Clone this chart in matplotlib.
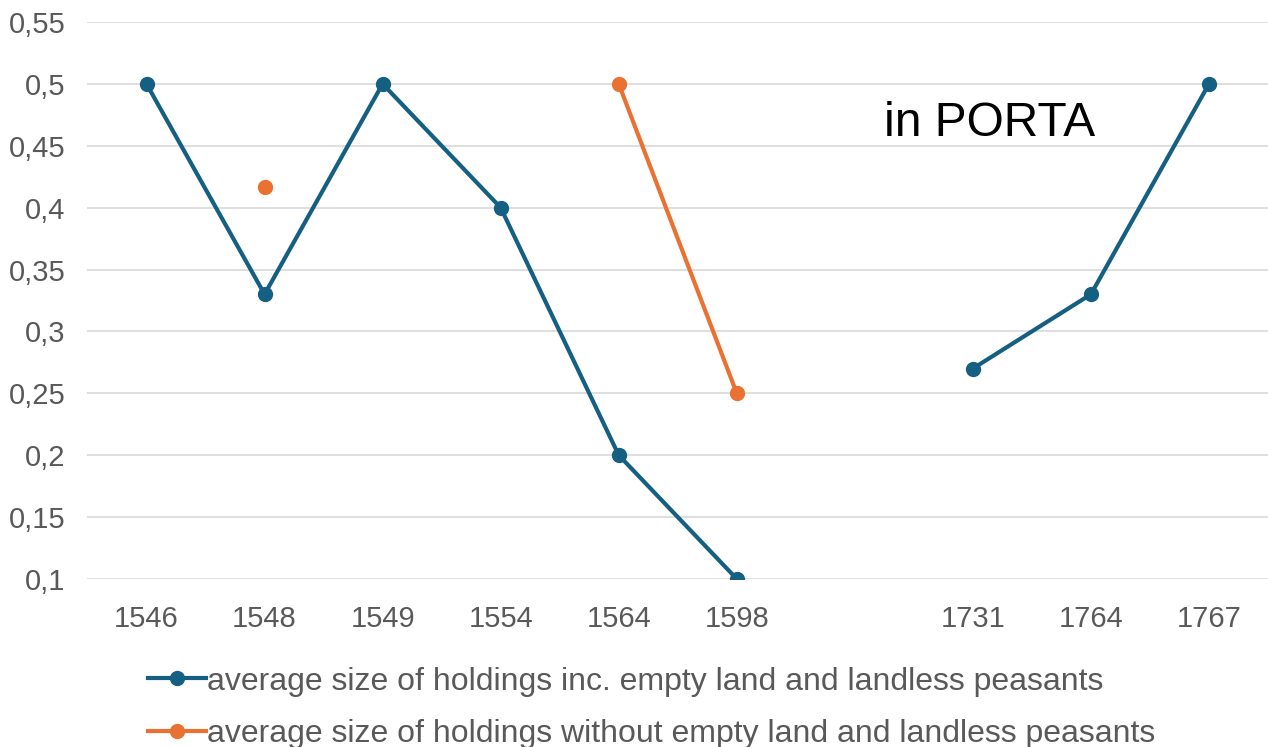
import numpy as np
import matplotlib.pyplot as plt

# dados
anos = ["1546", "1548", "1549", "1554", "1564", "1598", "", "1731", "1764", "1767"]
com_vazias = [0.5, 0.33, 0.5, 0.4, 0.2, 0.1, np.nan, 0.27, 0.33, 0.5]
sem_vazias = [np.nan, 0.4167, np.nan, np.nan, 0.5, 0.25, np.nan, np.nan, np.nan, np.nan]
yticks = [0.1, 0.15, 0.2, 0.25, 0.3, 0.35, 0.4, 0.45, 0.5, 0.55]
label_com = "average size of holdings inc. empty land and landless peasants"
label_sem = "average size of holdings without empty land and landless peasants"

azul = "#156082"
laranja = "#E97132"
cinza = "#595959"

plt.rcParams['font.family'] = ['Liberation Sans', 'DejaVu Sans']

fig = plt.figure(figsize=(12.68, 7.47), dpi=100)
ax = fig.add_axes([0.069, 0.225, 0.931, 0.7455])

x = np.arange(len(anos))
ax.plot(x, com_vazias, color=azul, lw=3, marker='o', ms=10, label=label_com)
ax.plot(x, sem_vazias, color=laranja, lw=3, marker='o', ms=10, label=label_sem)

ax.set_xlim(-0.5, len(anos) - 0.5)
ax.set_ylim(0.1, 0.55)
ax.set_yticks(yticks)
ax.set_yticklabels([("%g" % v).replace(".", ",") for v in yticks])
ax.set_xticks(x)
ax.set_xticklabels(anos)
ax.tick_params(length=0, labelsize=21, colors=cinza)
ax.tick_params(axis='x', pad=19)
ax.tick_params(axis='y', pad=16)
ax.grid(axis='y', color='#d9d9d9', lw=1.2)
ax.set_axisbelow(True)
for s in ax.spines.values():
    s.set_visible(False)

ax.text(0.675, 0.817, "in PORTA", transform=ax.transAxes, fontsize=34.5, color='black',
        va='center', ha='left')

leg = fig.legend(loc='lower center', bbox_to_anchor=(0.514, -0.041), ncol=1, frameon=False,
                 fontsize=23, labelcolor=cinza, handlelength=1.8, handletextpad=0.05,
                 labelspacing=0.7)

fig.savefig("out.png", dpi=100)
